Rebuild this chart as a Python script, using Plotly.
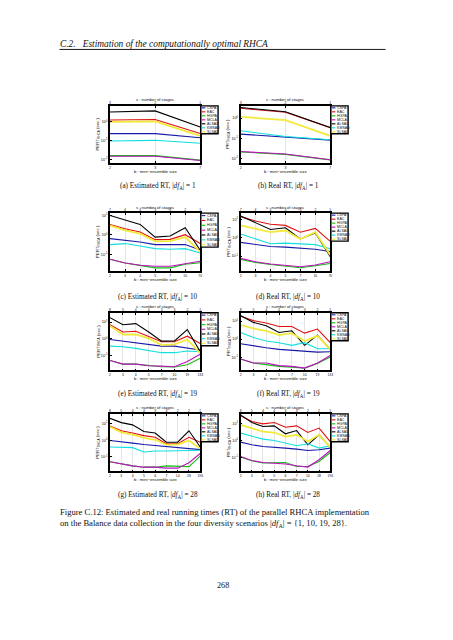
import plotly.graph_objects as go

W, H = 453, 640

series_names = ["CSPA", "EAC", "HGPA", "MCLA", "ALSAD", "KMSAD", "SLSAD"]
series_colors = ["#1a1aa8", "#e01010", "#10c010", "#c010c0", "#000000", "#10e0e0", "#f2ea3a"]

# x tick labels (mini-ensemble size b, number of stages s)
b_df1 = ["2", "3", "7"]
s_df1 = ["3", "2", "1"]
b_df10 = ["2", "3", "4", "5", "7", "10", "70"]
s_df10 = ["7", "4", "4", "3", "3", "2", "1"]
b_df19 = ["2", "3", "4", "5", "7", "10", "19", "133"]
s_df19 = ["8", "5", "4", "4", "3", "3", "2", "1"]
b_df28 = ["2", "3", "4", "5", "6", "7", "14", "28", "196"]
s_df28 = ["8", "5", "4", "4", "3", "3", "2", "2", "1"]

# running times (sec.)
pert_df1 = {
    "CSPA": [0.24, 0.24, 0.145],
    "EAC": [1.28, 1.36, 0.24],
    "HGPA": [0.016, 0.016, 0.0092],
    "MCLA": [0.015, 0.015, 0.0089],
    "ALSAD": [3.4, 3.9, 0.54],
    "KMSAD": [0.096, 0.105, 0.073],
    "SLSAD": [1.0, 1.06, 0.18],
}
prt_df1 = {
    "CSPA": [0.161, 0.119, 0.081],
    "EAC": [3.06, 1.94, 0.33],
    "HGPA": [0.021, 0.016, 0.0085],
    "MCLA": [0.022, 0.0165, 0.0086],
    "ALSAD": [3.35, 2.05, 0.34],
    "KMSAD": [0.235, 0.123, 0.084],
    "SLSAD": [1.16, 0.80, 0.133],
}
pert_df10 = {
    "CSPA": [0.64, 0.53, 0.43, 0.32, 0.32, 0.32, 0.17],
    "EAC": [3.4, 2.06, 1.39, 0.57, 0.59, 1.02, 0.36],
    "HGPA": [0.057, 0.037, 0.028, 0.021, 0.021, 0.032, 0.038],
    "MCLA": [0.057, 0.037, 0.0286, 0.0254, 0.0254, 0.035, 0.0455],
    "ALSAD": [9.7, 5.9, 3.4, 0.77, 0.87, 2.3, 0.164],
    "KMSAD": [0.32, 0.36, 0.27, 0.2, 0.185, 0.2, 0.12],
    "SLSAD": [3.0, 1.69, 1.15, 0.47, 0.485, 0.77, 0.135],
}
prt_df10 = {
    "CSPA": [0.56, 0.42, 0.335, 0.306, 0.27, 0.237, 0.176],
    "EAC": [14.5, 8.4, 5.5, 4.8, 2.03, 3.27, 0.64],
    "HGPA": [0.065, 0.0445, 0.0344, 0.029, 0.0225, 0.029, 0.039],
    "MCLA": [0.0744, 0.0486, 0.0362, 0.0318, 0.0256, 0.0318, 0.0486],
    "ALSAD": [15.9, 6.7, 2.87, 3.53, 0.86, 1.85, 0.093],
    "KMSAD": [1.63, 0.9, 0.47, 0.51, 0.47, 0.42, 0.25],
    "SLSAD": [4.8, 3.1, 2.03, 2.52, 0.86, 2.03, 0.115],
}
pert_df19 = {
    "CSPA": [0.92, 0.73, 0.61, 0.47, 0.37, 0.37, 0.296, 0.216],
    "EAC": [7.0, 2.58, 2.84, 1.44, 0.67, 0.67, 1.44, 0.536],
    "HGPA": [0.0508, 0.0312, 0.0312, 0.0248, 0.0216, 0.0208, 0.0284, 0.0703],
    "MCLA": [0.0508, 0.0312, 0.0312, 0.0248, 0.0238, 0.0216, 0.0444, 0.121],
    "ALSAD": [18.2, 7.0, 8.05, 2.58, 0.73, 0.76, 3.57, 0.172],
    "KMSAD": [0.37, 0.338, 0.272, 0.197, 0.15, 0.15, 0.189, 0.172],
    "SLSAD": [5.8, 1.82, 1.82, 1.06, 0.426, 0.469, 0.92, 0.138],
}
prt_df19 = {
    "CSPA": [0.557, 0.414, 0.332, 0.27, 0.237, 0.198, 0.19, 0.198],
    "EAC": [18.5, 10.6, 7.9, 5.06, 5.06, 2.15, 3.6, 0.635],
    "HGPA": [0.0797, 0.0474, 0.0385, 0.0309, 0.0282, 0.0248, 0.0439, 0.103],
    "MCLA": [0.0797, 0.0474, 0.0474, 0.0339, 0.0309, 0.0248, 0.0474, 0.124],
    "ALSAD": [20.3, 8.5, 5.5, 2.32, 2.9, 0.453, 1.66, 0.27],
    "KMSAD": [2.32, 1.22, 0.79, 0.635, 0.453, 0.635, 0.292, 0.292],
    "SLSAD": [6.07, 3.9, 2.9, 1.66, 2.15, 0.79, 1.51, 0.27],
}
pert_df28 = {
    "CSPA": [0.96, 0.76, 0.667, 0.558, 0.488, 0.426, 0.388, 0.338, 0.272],
    "EAC": [7.3, 3.72, 2.72, 1.89, 1.5, 0.614, 0.614, 1.5, 0.76],
    "HGPA": [0.0508, 0.0372, 0.0284, 0.0238, 0.0238, 0.0284, 0.0258, 0.0258, 0.11],
    "MCLA": [0.0508, 0.0372, 0.0284, 0.0238, 0.0238, 0.0208, 0.0208, 0.0444, 0.158],
    "ALSAD": [20.8, 11.5, 8.4, 3.38, 2.72, 0.76, 0.76, 3.72, 0.388],
    "KMSAD": [0.388, 0.357, 0.357, 0.197, 0.225, 0.225, 0.225, 0.225, 0.248],
    "SLSAD": [6.4, 2.96, 2.16, 1.38, 1.06, 0.536, 0.536, 0.96, 0.312],
}
prt_df28 = {
    "CSPA": [0.805, 0.558, 0.444, 0.409, 0.357, 0.312, 0.258, 0.284, 0.357],
    "EAC": [28.4, 13.1, 9.6, 11.5, 6.1, 7.3, 2.96, 5.4, 0.87],
    "HGPA": [0.106, 0.064, 0.0469, 0.0469, 0.0508, 0.0296, 0.0296, 0.0582, 0.197],
    "MCLA": [0.115, 0.0667, 0.0508, 0.0469, 0.0409, 0.0325, 0.0272, 0.0733, 0.258],
    "ALSAD": [32.5, 11.5, 6.7, 7.3, 2.48, 3.87, 0.558, 2.16, 0.409],
    "KMSAD": [2.72, 1.89, 1.21, 1.0, 0.703, 0.488, 0.64, 0.357, 0.488],
    "SLSAD": [8.4, 5.4, 3.38, 2.96, 1.72, 2.16, 0.87, 2.16, 0.409],
}

captions = [
    "(a) Estimated RT, |<i>df</i><sub>A</sub>| = 1",
    "(b) Real RT, |<i>df</i><sub>A</sub>| = 1",
    "(c) Estimated RT, |<i>df</i><sub>A</sub>| = 10",
    "(d) Real RT, |<i>df</i><sub>A</sub>| = 10",
    "(e) Estimated RT, |<i>df</i><sub>A</sub>| = 19",
    "(f) Real RT, |<i>df</i><sub>A</sub>| = 19",
    "(g) Estimated RT, |<i>df</i><sub>A</sub>| = 28",
    "(h) Real RT, |<i>df</i><sub>A</sub>| = 28",
]

panels = [
    (pert_df1, b_df1, s_df1, [-2.19, 0.86], [0, -1, -2], "PERT"),
    (prt_df1, b_df1, s_df1, [-2.228, 0.609], [0, -1, -2], "PRT"),
    (pert_df10, b_df10, s_df10, [-1.833, 1.104], [1, 0, -1], "PERT"),
    (prt_df10, b_df10, s_df10, [-1.816, 1.352], [1, 0, -1], "PRT"),
    (pert_df19, b_df19, s_df19, [-1.882, 1.553], [1, 0, -1], "PERT"),
    (prt_df19, b_df19, s_df19, [-1.735, 1.459], [1, 0, -1], "PRT"),
    (pert_df28, b_df28, s_df28, [-1.882, 1.588], [1, 0, -1], "PERT"),
    (prt_df28, b_df28, s_df28, [-1.824, 1.571], [1, 0, -1], "PRT"),
]
legend_heights = [28, 28, 34, 28, 33, 28, 28, 28]

rows_top = [105, 212.5, 312.3, 413.5]
rows_bot = [162.3, 270.3, 370, 471.2]
cols_left = [110, 241.7]
cols_right = [201, 332.2]
cap_centers = [158, 290]
cap_y = [186, 297, 394, 495]


def fx(x):
    return x / W


def fy(y):
    return 1 - y / H


SANS = "Liberation Sans, Arial, sans-serif"
SERIF = "Liberation Serif, DejaVu Serif, serif"
TXT = "#111111"


def note(text, x, y, size, family, xanchor="center", angle=0):
    return dict(text=text, x=fx(x), y=fy(y), xref="paper", yref="paper",
                xanchor=xanchor, yanchor="middle", showarrow=False,
                textangle=angle, borderpad=0,
                font=dict(size=size, family=family, color=TXT))


fig = go.Figure()
layout = dict(
    width=W, height=H, margin=dict(l=0, r=0, t=0, b=0),
    paper_bgcolor="white", plot_bgcolor="white", showlegend=False,
)
annotations = []
shapes = []

for k, (data, blab, slab, yr, tks, lab) in enumerate(panels):
    r, c = k // 2, k % 2
    n = len(blab)
    xs = list(range(n))
    xa, ya, xt = f"x{k+1}", f"y{k+1}", f"x{k+9}"
    for name, col in zip(series_names, series_colors):
        fig.add_trace(go.Scatter(
            x=xs, y=data[name], mode="lines", name=name,
            line=dict(color=col, width=1.8 if name == "SLSAD" else 1.1),
            xaxis=xa, yaxis=ya, hoverinfo="skip",
        ))
    fig.add_trace(go.Scatter(x=xs, y=[None] * n, xaxis=xt, yaxis=ya,
                             showlegend=False, hoverinfo="skip"))
    dom_x = [fx(cols_left[c]), fx(cols_right[c])]
    dom_y = [fy(rows_bot[r]), fy(rows_top[r])]
    sfx = "" if k == 0 else str(k + 1)
    layout["xaxis" + sfx] = dict(
        domain=dom_x, anchor=ya, range=[0, n - 1], tickvals=xs, ticktext=blab,
        showline=True, mirror=True, linecolor="black", linewidth=1.6,
        showgrid=True, gridcolor="#e4e4e4", gridwidth=0.6, zeroline=False,
        ticks="inside", ticklen=2, tickwidth=0.6, tickcolor="black",
        tickfont=dict(size=3.4, family=SANS, color=TXT),
    )
    layout["yaxis" + sfx] = dict(
        domain=dom_y, anchor=xa, type="log", range=yr,
        tickvals=[10 ** t for t in tks],
        ticktext=[f"10<sup>{t}</sup>" for t in tks],
        showline=True, mirror=True, linecolor="black", linewidth=1.6,
        showgrid=False, zeroline=False,
        ticks="inside", ticklen=2, tickwidth=0.6, tickcolor="black",
        tickfont=dict(size=3.8, family=SANS, color=TXT),
    )
    layout[f"xaxis{k+9}"] = dict(
        overlaying=xa, anchor=ya, side="top", range=[0, n - 1], tickvals=xs,
        ticktext=slab, showgrid=False, zeroline=False, showline=False,
        ticks="inside", ticklen=2, tickwidth=0.6, tickcolor="black",
        tickfont=dict(size=3.4, family=SANS, color=TXT),
    )
    xl, xr = cols_left[c], cols_right[c]
    yt, yb = rows_top[r], rows_bot[r]
    xm = (xl + xr) / 2
    annotations.append(note("s : number of stages", xm, yt - 6.0, 4.2, SANS))
    annotations.append(note("b : mini\u2212ensemble size", xm, yb + 8.5, 4.2, SANS))
    annotations.append(note(f"{lab}<sub>RHCA</sub> (sec.)", xl - 12, (yt + yb) / 2,
                            4.4, SANS, angle=-90))
    annotations.append(note(captions[k], cap_centers[c], cap_y[r], 7.2, SERIF))
    # legend box
    lx0, lx1 = xr + 0.6, xr + 18
    lh = legend_heights[k]
    shapes.append(dict(type="rect", xref="paper", yref="paper",
                       x0=fx(lx0), x1=fx(lx1), y0=fy(yt + lh), y1=fy(yt),
                       line=dict(color="black", width=1.4), fillcolor="white"))
    step = lh / 7.0
    for i, (name, col) in enumerate(zip(series_names, series_colors)):
        yy = yt + step * (i + 0.5)
        shapes.append(dict(type="line", xref="paper", yref="paper",
                           x0=fx(lx0 + 1.0), x1=fx(lx0 + 4.6), y0=fy(yy), y1=fy(yy),
                           line=dict(color=col, width=1.1)))
        annotations.append(note(name, lx0 + 5.0, yy, 3.6, SANS, xanchor="left"))

# page header, caption and page number
annotations.append(note("<i>C.2.\u00a0\u00a0\u00a0Estimation of the computationally optimal RHCA</i>",
                        59, 42.7, 9.4, SERIF, xanchor="left"))
shapes.append(dict(type="line", xref="paper", yref="paper", x0=fx(59), x1=fx(388),
                   y0=fy(48.5), y1=fy(48.5), line=dict(color="black", width=0.9)))
annotations.append(note("Figure C.12: Estimated and real running times (RT) of the parallel RHCA implementation",
                        59, 512, 8.6, SERIF, xanchor="left"))
annotations.append(note("on the Balance data collection in the four diversity scenarios |<i>df</i><sub>A</sub>| = {1, 10, 19, 28}.",
                        59, 523.5, 8.6, SERIF, xanchor="left"))
annotations.append(note("268", 223.5, 585, 8.2, SERIF))

layout["annotations"] = annotations
layout["shapes"] = shapes
fig.update_layout(**layout)
fig.write_html("out.html", config={"displayModeBar": False},
               post_script="document.body.style.margin='0';document.body.style.overflow='hidden';")
